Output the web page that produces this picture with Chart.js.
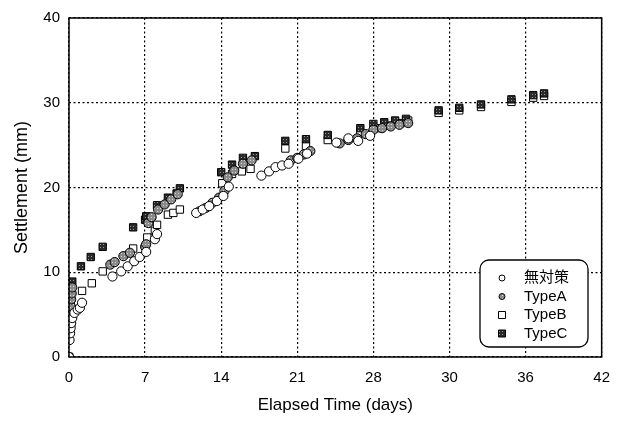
<!DOCTYPE html>
<html>
<head>
<meta charset="utf-8">
<script src="https://cdn.jsdelivr.net/npm/chart.js@4/dist/chart.umd.min.js"></script>
<style>
  html, body { margin: 0; padding: 0; background: #fff; }
  #wrap { width: 622px; height: 421px; }
</style>
</head>
<body>
<div id="wrap"><canvas id="graph"></canvas></div>
<script>
const xLabels = ["0", "7", "14", "21", "28", "30", "36", "42"];
const seriesNames = ["無対策", "TypeA", "TypeB", "TypeC"];

// 無対策
const noneDays = [0, 0.05, 0.1, 0.15, 0.2, 0.3, 0.5, 0.8, 1.0, 1.2, 4.0, 4.8, 5.4, 6.0, 6.5, 7.1, 7.9, 8.1,
    11.7, 12.3, 12.9, 13.6, 14.2, 14.7, 17.7, 18.4, 19.0, 19.6, 20.2, 21.1, 21.9, 24.6, 25.7, 26.6, 27.7];
const noneSettle = [0, 2.0, 2.8, 3.4, 4.0, 4.6, 5.2, 5.6, 5.8, 6.4, 9.5, 10.1, 10.7, 11.3, 11.8, 12.4, 13.9, 14.5,
    17.0, 17.4, 17.8, 18.4, 19.0, 20.1, 21.4, 21.9, 22.4, 22.6, 22.8, 23.4, 24.0, 25.3, 25.8, 25.5, 26.1];

// TypeA
const aDays = [0, 0.1, 0.15, 0.2, 0.25, 0.3, 3.8, 4.2, 5.0, 5.6, 7.0, 7.1, 7.3, 7.6, 8.2, 8.8, 9.4, 10.0,
    12.0, 12.6, 13.2, 13.8, 14.3, 14.6, 15.2, 16.0, 16.8, 20.4, 21.0, 21.6, 22.2, 24.9, 25.7, 26.5, 27.3,
    28.0, 28.8, 29.6, 30.4, 31.2];
const aSettle = [0, 5.0, 6.0, 6.8, 7.5, 8.2, 10.9, 11.2, 11.9, 12.3, 13.0, 13.3, 15.8, 16.5, 17.4, 18.0, 18.6, 19.2,
    17.2, 17.6, 18.2, 18.8, 19.6, 21.2, 22.0, 22.8, 23.2, 23.2, 23.5, 23.9, 24.3, 25.2, 25.6, 25.8, 26.3,
    26.8, 27.0, 27.2, 27.4, 27.6];

// TypeB
const bDays = [0, 0.1, 0.2, 0.3, 0.4, 1.2, 2.1, 3.1, 5.9, 7.2, 7.9, 8.1, 9.1, 9.6, 10.2, 14.1, 15.0, 15.9, 16.7,
    19.9, 21.8, 23.8, 26.8, 28.5, 29.5, 30.5, 31.2, 34.0, 35.9, 37.9, 40.7, 42.7, 43.7];
const bSettle = [0, 3.0, 4.0, 4.8, 5.6, 7.8, 8.7, 10.1, 12.8, 14.1, 14.9, 15.6, 16.8, 17.0, 17.4, 20.5, 21.6, 21.9, 22.2,
    24.6, 24.9, 25.6, 26.5, 27.0, 27.3, 27.6, 27.9, 28.8, 29.1, 29.5, 30.1, 30.6, 30.8];

// TypeC
const cDays = [0, 0.1, 0.15, 0.2, 0.25, 0.3, 1.1, 2.0, 3.1, 5.9, 7.0, 7.1, 8.1, 9.1, 9.9, 10.2, 14.0, 15.0, 16.0, 17.1,
    19.9, 21.8, 23.8, 26.8, 28.0, 29.0, 30.0, 31.0, 34.0, 35.9, 37.9, 40.7, 42.7, 43.7];
const cSettle = [0, 5.8, 6.6, 7.4, 8.2, 8.9, 10.7, 11.8, 13.0, 15.3, 16.2, 16.6, 17.9, 18.8, 19.3, 19.9, 21.8, 22.7, 23.5, 23.7,
    25.5, 25.7, 26.2, 27.0, 27.5, 27.7, 27.9, 28.1, 29.1, 29.4, 29.8, 30.4, 30.9, 31.1];

const FONT = "'Liberation Sans', Arial, 'Noto Sans CJK JP', sans-serif";

function toPoints(xs, ys) {
    return xs.map((x, i) => ({x: x, y: ys[i]}));
}

function makePattern(bg, dot) {
    const c = document.createElement('canvas');
    c.width = 3; c.height = 3;
    const g = c.getContext('2d');
    g.fillStyle = bg; g.fillRect(0, 0, 3, 3);
    g.fillStyle = dot; g.fillRect(1, 1, 1, 1);
    return g.createPattern(c, 'repeat');
}

const fillA = makePattern('#8a8a8a', '#d8d8d8');
const fillC = makePattern('#2a2a2a', '#9a9a9a');

const styles = [
    {pointStyle: 'circle', bg: '#fff', r: 4.6, order: 1},
    {pointStyle: 'circle', bg: fillA, r: 4.6, order: 2},
    {pointStyle: 'rect', bg: '#fff', r: 5.2, order: 4},
    {pointStyle: 'rect', bg: fillC, r: 5.2, order: 3}
];

const allData = [
    toPoints(noneDays, noneSettle),
    toPoints(aDays, aSettle),
    toPoints(bDays, bSettle),
    toPoints(cDays, cSettle)
];

const frameAndLegend = {
    id: 'frameAndLegend',
    afterDraw(chart) {
        const ctx = chart.ctx;
        const a = chart.chartArea;
        ctx.save();
        ctx.strokeStyle = '#000';
        ctx.lineWidth = 1.5;
        ctx.strokeRect(a.left, a.top, a.right - a.left, a.bottom - a.top);

        // legend box
        const bx = 480, by = 260, bw = 108, bh = 87, rr = 9;
        ctx.beginPath();
        ctx.roundRect(bx, by, bw, bh, rr);
        ctx.fillStyle = '#fff';
        ctx.fill();
        ctx.lineWidth = 1.3;
        ctx.strokeStyle = '#000';
        ctx.stroke();

        ctx.font = "15px " + FONT;
        ctx.textBaseline = 'middle';
        ctx.textAlign = 'left';
        for (let i = 0; i < seriesNames.length; i++) {
            const y = by + 18 + i * 18.5;
            ctx.fillStyle = styles[i].bg;
            ctx.strokeStyle = '#000';
            ctx.lineWidth = 1;
            ctx.beginPath();
            if (styles[i].pointStyle === 'circle') {
                ctx.arc(502, y, 3, 0, Math.PI * 2);
            } else {
                ctx.rect(498.5, y - 3.5, 7, 7);
            }
            ctx.fill();
            ctx.stroke();
            ctx.fillStyle = '#000';
            ctx.fillText(seriesNames[i], 524, y);
        }
        ctx.restore();
    }
};

new Chart("graph", {
    type: 'scatter',
    data: {
        datasets: allData.map((pts, i) => ({
            label: seriesNames[i],
            data: pts,
            showLine: false,
            pointStyle: styles[i].pointStyle,
            pointRadius: styles[i].r,
            pointBackgroundColor: styles[i].bg,
            pointBorderColor: '#000',
            pointBorderWidth: 1,
            order: styles[i].order
        }))
    },
    options: {
        responsive: true,
        maintainAspectRatio: false,
        animation: false,
        events: [],
        layout: {padding: {left: 0, right: 18, top: 11, bottom: 0}},
        plugins: {
            legend: {display: false},
            tooltip: {enabled: false}
        },
        scales: {
            x: {
                type: 'linear',
                min: 0,
                max: 49,
                afterFit(scale) { scale.height = 64; },
                ticks: {
                    stepSize: 7,
                    color: '#000',
                    padding: 12,
                    maxRotation: 0,
                    font: {family: FONT, size: 15},
                    callback: (v) => xLabels[Math.round(v / 7)]
                },
                grid: {color: '#000', lineWidth: 1.2, drawTicks: false},
                border: {display: false, dash: [2, 2.5]},
                title: {
                    display: true,
                    text: 'Elapsed Time (days)',
                    color: '#000',
                    font: {family: FONT, size: 17},
                    padding: {top: 0, bottom: 5}
                }
            },
            y: {
                min: 0,
                max: 40,
                afterFit(scale) { scale.width = 69; },
                ticks: {
                    stepSize: 10,
                    color: '#000',
                    padding: 9,
                    font: {family: FONT, size: 15}
                },
                grid: {color: '#000', lineWidth: 1.2, drawTicks: false},
                border: {display: false, dash: [2, 2.5]},
                title: {
                    display: true,
                    text: 'Settlement (mm)',
                    color: '#000',
                    font: {family: FONT, size: 18},
                    padding: {top: 11, bottom: 0}
                }
            }
        }
    },
    plugins: [frameAndLegend]
});
</script>
</body>
</html>
